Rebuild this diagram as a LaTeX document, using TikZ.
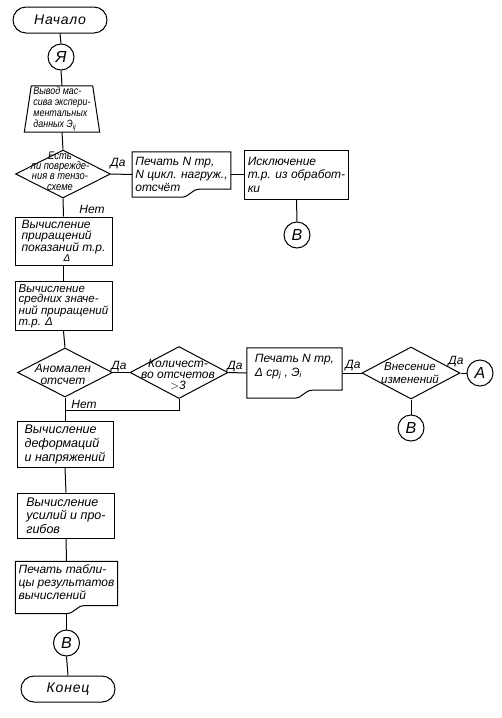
\documentclass[tikz,border=0pt]{standalone}
\usepackage{fontspec}
\setmainfont{Liberation Sans}
\newfontfamily\narrowfont[FakeStretch=0.85]{Liberation Sans}
\usetikzlibrary{calc,shapes.geometric}

\newcommand{\fs}[2]{\fontsize{#1}{#2}\selectfont\itshape}

\tikzset{
  flow/.style={line width=1pt},
  blk/.style={draw, flow, rectangle, inner sep=3pt, align=left},
  doc/.style={rectangle, inner sep=3pt, align=left},
  term/.style={draw, flow, rounded corners=13pt, minimum width=94pt, minimum height=26pt,
    font=\fs{14}{16}\addfontfeature{LetterSpace=6}},
  conn/.style={draw, flow, circle, minimum size=26pt, inner sep=0pt, font=\fs{16}{16}},
  dia/.style={draw, flow, diamond, inner sep=0pt},
  dtxt/.style={align=center, inner sep=0pt},
  lbl/.style={inner sep=0pt, font=\fs{12}{12}}
}

% outline of a print document: wavy bottom edge
\newcommand{\docline}[1]{%
  \draw[flow] (#1.south west) -- (#1.south)
    .. controls ($(#1.south)+(8,0)$) and ($(#1.south)+(10,-8)$) .. ($(#1.south)+(18,-8)$)
    -- ($(#1.south east)+(0,-8)$) -- (#1.north east) -- (#1.north west) -- cycle;}

\begin{document}
\begin{tikzpicture}[x=1pt, y=-1pt, font=\fs{12}{14}]
  \useasboundingbox (0,0) rectangle (501,718);

  % main column
  \node[term] (start) at (60,20) {Начало};
  \node[conn] (A1) at (61,57) {Я};
  \node[rectangle, inner sep=0pt, minimum width=61pt, minimum height=46pt,
    align=left, font=\narrowfont\fs{10.5}{11}] (input) at (62,109)
    {Вывод мас-\\сива экспери-\\ментальных\\данных Э\textsubscript{ij}};
  \draw[flow] (input.north west) -- (input.north east) -- ($(input.south east)+(7,0)$)
    -- ($(input.south west)+(-7,0)$) -- cycle;

  \node[dia, minimum width=95pt, minimum height=48pt] (d1) at (63,174) {};
  \node[dtxt, font=\narrowfont\fs{11}{10.3}] (d1t) at (60,171) {Есть\\ли поврежде-\\ния в тензо-\\схеме};

  \node[doc, minimum width=97pt, minimum height=45pt, font=\fs{12}{13}] (p1) at (181.5,174.5)
    {Печать N тр,\\N цикл. нагруж.,\\отсчёт};
  \docline{p1}
  \node[blk, minimum width=97pt, minimum height=49pt, font=\fs{12}{13.5}] (x1) at (296.5,174.5)
    {Исключение\\т.р. из обработ-\\ки};
  \node[conn] (B1) at (297,235) {В};

  \node[blk, minimum width=97pt, minimum height=48pt, font=\fs{12}{11.5}] (c1) at (63.5,241)
    {Вычисление\\приращений\\показаний т.р.\\[-1pt]\hspace*{42pt}{\fs{10}{10}Δ}};
  \node[blk, minimum width=97pt, minimum height=46pt, font=\fs{11.5}{10.5}] (c2) at (63.5,306)
    {Вычисление\\средних значе-\\ний приращений\\т.р. Δ};

  \node[dia, minimum width=95pt, minimum height=49pt] (d2) at (65,372.5) {};
  \node[dtxt, font=\fs{12}{12}] (d2t) at (63,374) {Аномален\\отсчет};
  \node[dia, minimum width=98pt, minimum height=52pt] (d3) at (179,372.5) {};
  \node[dtxt, font=\fs{12}{11}] (d3t) at (178,375) {Количест-\\во отсчетов\\$>$3};
  \node[doc, minimum width=95pt, minimum height=50pt, font=\fs{12}{14}] (p2) at (294.5,373)
    {Печать N тр,\\Δ ср\textsubscript{j} , Э\textsubscript{i}\\[2pt]\mbox{}};
  \docline{p2}
  \node[dia, minimum width=98pt, minimum height=52pt] (d4) at (411,373) {};
  \node[dtxt, font=\fs{11.5}{13}] (d4t) at (410,373.5) {Внесение\\изменений};
  \node[conn] (A2) at (480,373) {А};
  \node[conn] (B2) at (411,428) {В};

  \node[blk, minimum width=96pt, minimum height=45pt, font=\fs{12.5}{14}] (c3) at (65,444.5)
    {Вычисление\\деформаций\\и напряжений};
  \node[blk, minimum width=97pt, minimum height=45pt, font=\fs{12.5}{13.5}] (c4) at (66,515.5)
    {Вычисление\\усилий и про-\\гибов};
  \node[doc, minimum width=97pt, minimum height=49pt, font=\fs{12}{13}] (p3) at (66.5,587.5)
    {Печать табли-\\цы результатов\\вычислений\\[-2pt]\mbox{}};
  \docline{p3}
  \node[conn] (B3) at (66.5,643) {В};
  \node[term] (stop) at (68,689) {Конец};

  % labels
  \node[lbl] (l1) at (118,164) {Да};
  \node[lbl] (l2) at (92,209) {Нет};
  \node[lbl] (l3) at (119,367) {Да};
  \node[lbl] (l4) at (235,367) {Да};
  \node[lbl] (l5) at (84,404) {Нет};
  \node[lbl] (l6) at (353,366) {Да};
  \node[lbl] (l7) at (456,362) {Да};

  \coordinate (join) at (65,410);

  % connectors
  \draw[flow] (start.south) -- (A1.north);
  \draw[flow] (A1.south) -- (input.north);
  \draw[flow] (input.south) -- (d1.north);
  \draw[flow] (d1.east) -- (p1.west);
  \draw[flow] (p1.east) -- (x1.west);
  \draw[flow] (x1.south) -- (B1.north);
  \draw[flow] (d1.south) -- (c1.north);
  \draw[flow] (c1.south) -- (c2.north);
  \draw[flow] (c2.south) -- (d2.north);
  \draw[flow] (d2.east) -- (d3.west);
  \draw[flow] (d3.east) -- (p2.west);
  \draw[flow] (p2.east) -- (d4.west);
  \draw[flow] (d4.east) -- (A2.west);
  \draw[flow] (d4.south) -- (B2.north);
  \draw[flow] (d3.south) |- (join);
  \draw[flow] (d2.south) -- (c3.north);
  \draw[flow] (c3.south) -- (c4.north);
  \draw[flow] (c4.south) -- (p3.north);
  \draw[flow] (p3.south) -- (B3.north);
  \draw[flow] (B3.south) -- (stop.north);
\end{tikzpicture}
\end{document}
